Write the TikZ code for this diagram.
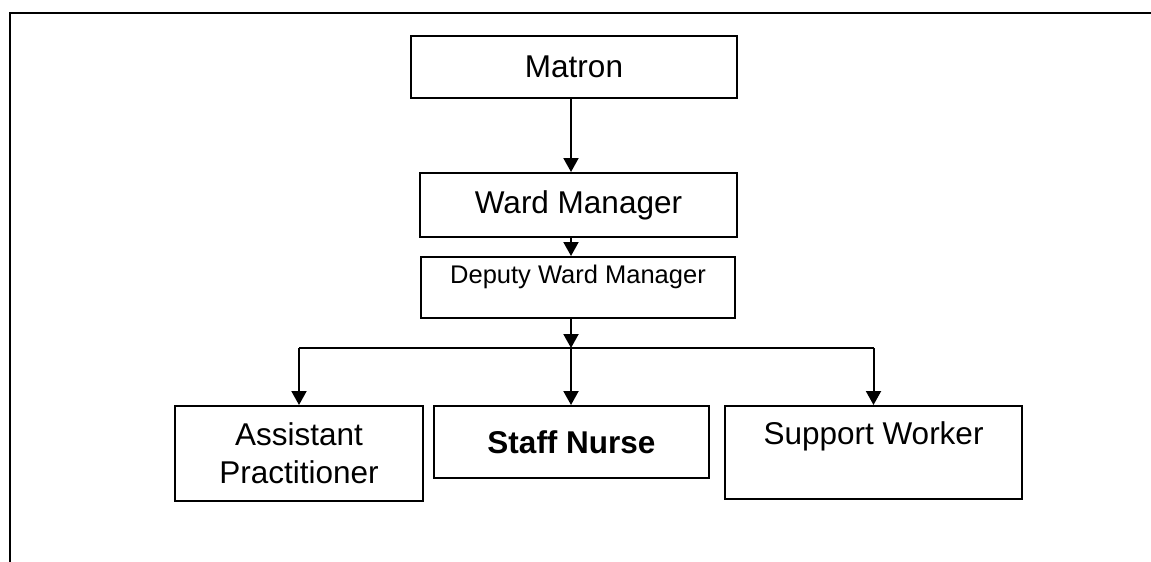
\documentclass[tikz,border=0pt]{standalone}
\usepackage{fontspec}
\setmainfont{Liberation Sans}
\usetikzlibrary{arrows.meta}

\begin{document}
\begin{tikzpicture}[x=1pt, y=-1pt,
    box/.style={draw, line width=2pt, inner sep=0pt, align=center,
                font=\fontsize{31.5}{38}\selectfont},
    arr/.style={-{Triangle[width=15pt,length=14pt]}, line width=2pt}]

     \useasboundingbox (0,0) rectangle (1151,562);

     % frame
     \draw[line width=2pt] (10,562) -- (10,12.5) -- (1151,12.5);

     % management
     \node[box, minimum width=326pt, minimum height=62pt] (matron) at (574,67) {Matron};
     \node[box, minimum width=317pt, minimum height=64pt] (ward) at (578.5,205) {Ward Manager};
     \node[box, minimum width=314pt, minimum height=61pt,
           font=\fontsize{25.5}{27}\selectfont] (deputy) at (578,287.5) {Deputy Ward Manager\\ \mbox{}};

     % staff
     \node[box, minimum width=248pt, minimum height=95pt] (assist) at (299,453.5) {Assistant\\ Practitioner};
     \node[box, minimum width=275pt, minimum height=72pt] (staff) at (571.5,442) {\textbf{Staff Nurse}};
     \node[box, minimum width=297pt, minimum height=93pt] (support) at (873.5,452.5) {Support Worker\\ \mbox{}};

     % flow
     \coordinate (spine) at (571,0);
     \coordinate (branch) at (571,348);
     \draw[arr] (matron.south -| spine) -- (ward.north -| spine);
     \draw[arr] (ward.south -| spine) -- (deputy.north -| spine);
     \draw[arr] (deputy.south -| spine) -- (branch);
     \draw[line width=2pt] (assist.north |- branch) -- (support.north |- branch);
     \draw[arr] (assist.north |- branch) -- (assist.north);
     \draw[arr] (branch) -- (staff.north -| spine);
     \draw[arr] (support.north |- branch) -- (support.north);

\end{tikzpicture}
\end{document}
